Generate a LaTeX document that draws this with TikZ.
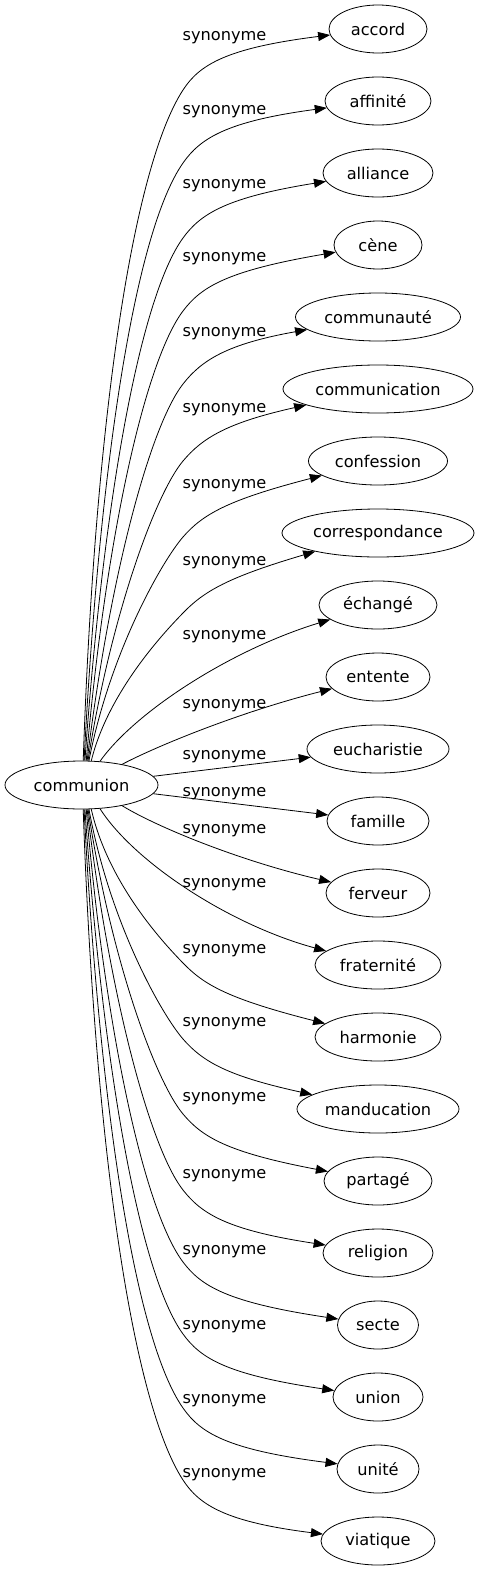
\documentclass[tikz,border=0pt]{standalone}
\usepackage{fontspec}
\setmainfont{DejaVu Sans}
\usetikzlibrary{shapes.geometric,arrows.meta}
\begin{document}
\begin{tikzpicture}[x=1pt,y=-1pt,
  font=\fontsize{16.2}{19}\selectfont,
  word/.style={draw, ellipse, inner sep=0pt, minimum height=48pt, line width=0.8pt},
  lab/.style={anchor=base, inner sep=0pt},
  syn/.style={line width=0.8pt, -{Triangle[length=12pt,width=9pt]}}]
\useasboundingbox (0,0) rectangle (479,1571);
\node[word, minimum width=153pt] (c) at (81.5,785) {communion};
\foreach \nm/\yy/\ww [count=\k from 0] in {
  accord/29/98, affinité/101/106, alliance/173/110, cène/245/88,
  communauté/317/165, communication/389/190, confession/461/139,
  correspondance/533/192, échangé/605/118, entente/677/104,
  eucharistie/749/142, famille/821/102, ferveur/893/104,
  fraternité/965/126, harmonie/1037/126, manducation/1109/162,
  partagé/1181/108, religion/1253/110, secte/1325/81, union/1397/90,
  unité/1469/82, viatique/1541/114}
  \node[word, minimum width=\ww pt] (n\k) at (378,\yy) {\nm};
\foreach \ly [count=\k] in {35,108,182,255,330,406,482,559,633,702,753,
  790,827,881,947,1020,1095,1172,1248,1323,1397,1471}
  \node[lab] (l\k) at (224.5,{\ly+6}) {synonyme};
\foreach \tn/\bn/\ang/\ax/\ay/\bx/\by/\mx/\my/\cx/\cy/\dx/\dy/\del in {
  n0/n21/86/94.7/425.7/131.8/168.8/183/90/199.3/64.8/226.3/48/0,
  n1/n20/84/99.6/462.4/135/231.6/183/163/200.2/138.4/226.4/121.3/1,
  n2/n19/82/103.3/500.1/140/297.2/183/238/200.6/213.7/226.5/197.4/2,
  n3/n18/79/105.6/536.9/145.1/361.3/183/311/201.1/287/226.6/270.7/3,
  n4/n17/77/110/573.9/150.5/425.6/183/384/201.5/360.4/226.6/344/4,
  n5/n16/75/111.5/612.8/156/493.2/183/461/202.3/438/227/422.7/5,
  n6/n15/73/110.4/651.1/162.4/560.7/183/537/202.7/514.4/227.3/500/6,
  n7/n14/68/108.9/689.2/168.6/627.9/183/613/203.8/591.4/227.6/577.3/6}
{
  \pgfmathtruncatemacro\bang{360-\ang}
  \draw[syn] (c.\ang) .. controls (\ax,\ay) and (\bx,\by) .. (\mx,\my)
    .. controls (\cx,\cy) and (\dx,\dy) .. (\tn);
  \draw[syn] (c.\bang) .. controls (\ax,{1570-\ay+\del}) and (\bx,{1570-\by+\del}) .. (\mx,{1570-\my+\del})
    .. controls (\cx,{1570-\cy+\del}) and (\dx,{1570-\dy+\del}) .. (\bn);
}
\draw[syn] (c.52) .. controls (134.4,712.5) and (230,650) .. (n8);
\draw[syn] (c.308) .. controls (134.4,862.5) and (230,925) .. (n13);
\draw[syn] (c.27) .. controls (157.3,745.8) and (240,712) .. (n9);
\draw[syn] (c.333) .. controls (157.3,827.2) and (240,861) .. (n12);
\draw[syn] (c) -- (n10);
\draw[syn] (c) -- (n11);
\end{tikzpicture}
\end{document}
